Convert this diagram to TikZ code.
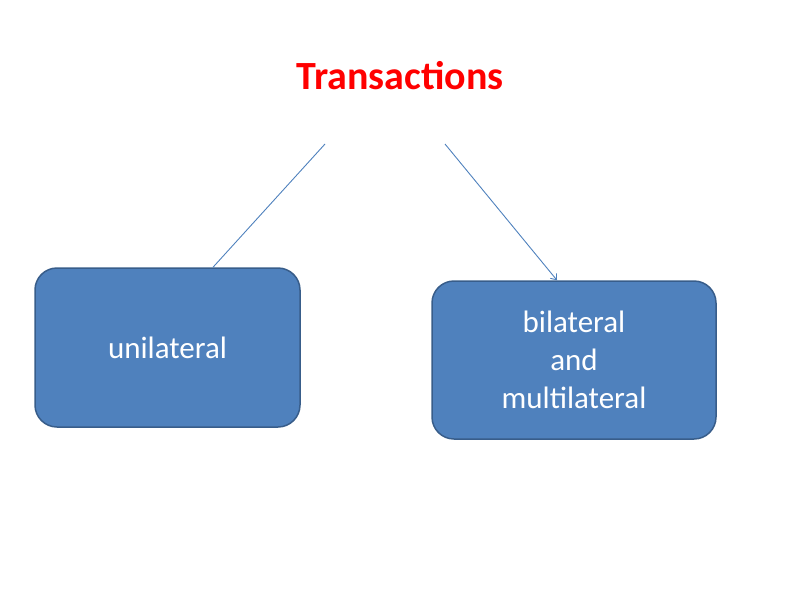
\documentclass[tikz,border=0pt]{standalone}
\usepackage{fontspec}
\setmainfont{Carlito}
\usetikzlibrary{arrows.meta}
\definecolor{boxfill}{HTML}{4F81BD}
\definecolor{boxline}{HTML}{385D8A}
\tikzset{
  bx/.style={draw=boxline, line width=1.5pt, fill=boxfill, rounded corners=22pt, text=white, font=\fontsize{31}{38}\selectfont, align=center, inner sep=0pt},
  conn/.style={draw=boxfill, line width=0.9pt}
}
\begin{document}
\begin{tikzpicture}[x=1pt,y=-1pt]
\useasboundingbox (0,0) rectangle (800,600);
\node[text=red, font=\fontsize{40}{48}\selectfont\bfseries] (t) at (400,76) {Transactions};
\node[bx, minimum width=265pt, minimum height=159pt] (u) at (167.5,347.5) {unilateral};
\node[bx, minimum width=284pt, minimum height=158pt] (b) at (574,360) {bilateral\\and\\multilateral};
\coordinate (l1) at (325,144);
\coordinate (r1) at (445,144);
\draw[conn] (l1) -- (u.north -| 213,0);
\draw[conn, -{Straight Barb[length=5pt,width=8pt]}] (r1) -- (b.north -| 557,0);
\end{tikzpicture}
\end{document}
